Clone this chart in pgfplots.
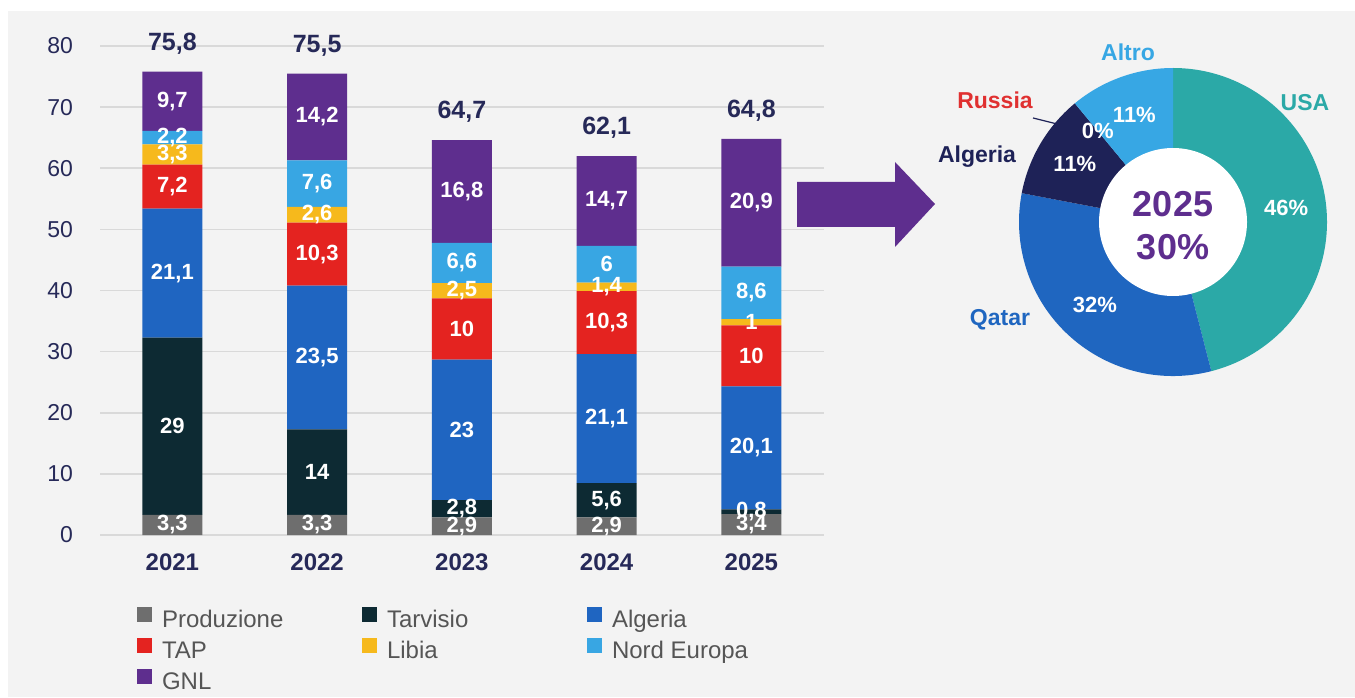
\documentclass[border=0pt]{standalone}
\usepackage{fontspec}
\setmainfont{Liberation Sans}
\usepackage{pgfplots}
\usepackage{pgfplotstable}
\pgfplotsset{compat=1.18}

\definecolor{cProd}{HTML}{6E6E6E}
\definecolor{cTarv}{HTML}{0D2A33}
\definecolor{cAlg}{HTML}{1F65C1}
\definecolor{cTap}{HTML}{E42320}
\definecolor{cLib}{HTML}{F6B91C}
\definecolor{cNord}{HTML}{38A6E3}
\definecolor{cGnl}{HTML}{5E2E8E}
\definecolor{cNavy}{HTML}{262958}
\definecolor{cGrid}{HTML}{D9D9D9}
\definecolor{cBg}{HTML}{F3F3F3}
\definecolor{cLeg}{HTML}{555555}
\definecolor{cUSA}{HTML}{2BA9A7}
\definecolor{cQat}{HTML}{1F66C0}
\definecolor{cAlgD}{HTML}{1E2257}
\definecolor{cRus}{HTML}{E03030}
\definecolor{cAlt}{HTML}{37A7E4}

% mld m3 per anno, dal basso verso l'alto
\pgfplotstableread{
idx prod tarv alg tap lib nord gnl tot
0   3.3  29   21.1 7.2  3.3 2.2  9.7  75.8
1   3.3  14   23.5 10.3 2.6 7.6  14.2 75.5
2   2.9  2.8  23   10   2.5 6.6  16.8 64.7
3   2.9  5.6  21.1 10.3 1.4 6    14.7 62.1
4   3.4  0.8  20.1 10   1   8.6  20.9 64.8
}\gasdata

% quote GNL 2025 (%)
\def\sUSA{46}\def\sQat{32}\def\sAlg{11}\def\sRus{0}\def\sAlt{11}

\newcommand\seg[3]{%
  \addplot[fill=#2] table[x=idx, y=#1, meta=#1]{\gasdata};
  \addlegendentry{\makebox[102pt][l]{\hspace{3.5pt}#3}}%
}

\begin{document}
\begin{tikzpicture}
\fill[white] (0,0) rectangle (677.5pt,348.5pt);
\fill[cBg] (4pt,0) rectangle (677.5pt,343pt);

\begin{axis}[
    ybar stacked,
    at={(50pt,81pt)}, anchor=south west,
    width=361.875pt, height=244.5pt, scale only axis,
    xmin=-0.5, xmax=4.5, ymin=0, ymax=80,
    enlargelimits=false,
    every axis plot/.append style={bar width=30pt, draw=none,
        legend image code/.code={\fill[##1] (0pt,-0.6pt) rectangle (7.5pt,6.9pt);}},
    xtick={0,1,2,3,4},
    xticklabels={2021,2022,2023,2024,2025},
    ytick={0,10,...,80},
    axis line style={draw=none},
    tick style={draw=none},
    ymajorgrids,
    grid style={color=cGrid, line width=0.8pt},
    /pgf/number format/assume math mode=true,
    /pgf/number format/use comma,
    yticklabel style={font=\fontsize{11.5}{13}\selectfont, text=cNavy, xshift=-10pt},
    xticklabel style={font=\bfseries\fontsize{12}{14}\selectfont, text=cNavy, yshift=-6pt},
    nodes near coords,
    point meta=explicit,
    every node near coord/.append style={font=\bfseries\fontsize{11}{13}\selectfont,
        text=white, anchor=center},
    legend columns=3,
    legend style={at={(0.0423,-0.138)}, anchor=north west, draw=none, fill=none,
        font=\fontsize{12}{14}\selectfont, text=cLeg, row sep=1.5pt,
        nodes={inner sep=1.5pt, text height=8.6pt, text depth=2.4pt}},
    legend cell align=left,
    clip=false,
]
\seg{prod}{cProd}{Produzione}
\seg{tarv}{cTarv}{Tarvisio}
\seg{alg}{cAlg}{Algeria}
\seg{tap}{cTap}{TAP}
\seg{lib}{cLib}{Libia}
\seg{nord}{cNord}{Nord Europa}
\seg{gnl}{cGnl}{GNL}
\end{axis}

% totali sopra le colonne
\begin{axis}[
    at={(50pt,81pt)}, anchor=south west,
    width=361.875pt, height=244.5pt, scale only axis,
    xmin=-0.5, xmax=4.5, ymin=0, ymax=80,
    hide axis, clip=false,
    /pgf/number format/assume math mode=true,
    /pgf/number format/use comma,
]
\addplot[draw=none, mark=none, nodes near coords, point meta=explicit,
    every node near coord/.append style={anchor=south, yshift=5pt,
        font=\bfseries\fontsize{12.5}{14}\selectfont, text=cNavy}]
    table[x=idx, y=tot, meta=tot]{\gasdata};
\end{axis}

% freccia
\fill[cGnl] (398.5pt,257.5pt) -- (447.5pt,257.5pt) -- (447.5pt,267.5pt)
  -- (467.5pt,246.5pt) -- (447.5pt,225pt) -- (447.5pt,235pt) -- (398.5pt,235pt) -- cycle;

% ciambella GNL 2025
\pgfmathsetmacro\aA{90}
\pgfmathsetmacro\aB{\aA-3.6*\sUSA}
\pgfmathsetmacro\aC{\aB-3.6*\sQat}
\pgfmathsetmacro\aD{\aC-3.6*\sAlg}
\pgfmathsetmacro\aE{\aD-3.6*\sRus}
\pgfmathsetmacro\aF{\aE-3.6*\sAlt}
\pgfmathsetmacro\mA{(\aA+\aB)/2}
\pgfmathsetmacro\mB{(\aB+\aC)/2}
\pgfmathsetmacro\mC{(\aC+\aD)/2}
\pgfmathsetmacro\mE{(\aE+\aF)/2}
\begin{axis}[
    at={(586.5pt,237.5pt)}, anchor=center,
    width=154pt, height=154pt, scale only axis,
    xmin=-1, xmax=1, ymin=-1, ymax=1,
    hide axis, clip=false,
]
\fill[cUSA] (axis cs:0,0) -- ([shift={(\aA:77pt)}]axis cs:0,0)
  arc[start angle=\aA, end angle=\aB, radius=77pt] -- cycle;
\fill[cQat] (axis cs:0,0) -- ([shift={(\aB:77pt)}]axis cs:0,0)
  arc[start angle=\aB, end angle=\aC, radius=77pt] -- cycle;
\fill[cAlgD] (axis cs:0,0) -- ([shift={(\aC:77pt)}]axis cs:0,0)
  arc[start angle=\aC, end angle=\aD, radius=77pt] -- cycle;
\fill[cAlt] (axis cs:0,0) -- ([shift={(\aE:77pt)}]axis cs:0,0)
  arc[start angle=\aE, end angle=\aF, radius=77pt] -- cycle;
\fill[white] (axis cs:0,0) circle[radius=37pt];
\begin{scope}[every node/.style={text=white, font=\bfseries\fontsize{11}{13}\selectfont}]
\node at ([shift={(\mA:57pt)}]axis cs:0,0) {\sUSA\%};
\node at ([shift={(\mB:57pt)}]axis cs:0,0) {\sQat\%};
\node at ([shift={(\mC:57pt)}]axis cs:0,0) {\sAlg\%};
\node at ([shift={(\aD:59pt)}]axis cs:0,0) {\sRus\%};
\node at ([shift={(\mE:57pt)}]axis cs:0,0) {\sAlt\%};
\end{scope}
\node[align=center, text=cGnl, font=\bfseries\fontsize{18}{21.5}\selectfont]
  at ([yshift=-2pt]axis cs:0,0) {2025\\30\%};
\end{axis}

\begin{scope}[every node/.style={font=\bfseries\fontsize{11.5}{13}\selectfont}]
\node[text=cAlt] at (564pt,322.5pt) {Altro};
\node[text=cRus] at (497.5pt,298.5pt) {Russia};
\node[text=cAlgD] at (488.5pt,270pt) {Algeria};
\node[text=cUSA] at (652.5pt,297pt) {USA};
\node[text=cQat] at (500pt,188.5pt) {Qatar};
\end{scope}
\draw[cAlgD, line width=0.6pt] (516.5pt,289.5pt) -- (528.5pt,286.5pt);

\pgfresetboundingbox
\path (0,0) rectangle (677.5pt,348.5pt);
\end{tikzpicture}
\end{document}
